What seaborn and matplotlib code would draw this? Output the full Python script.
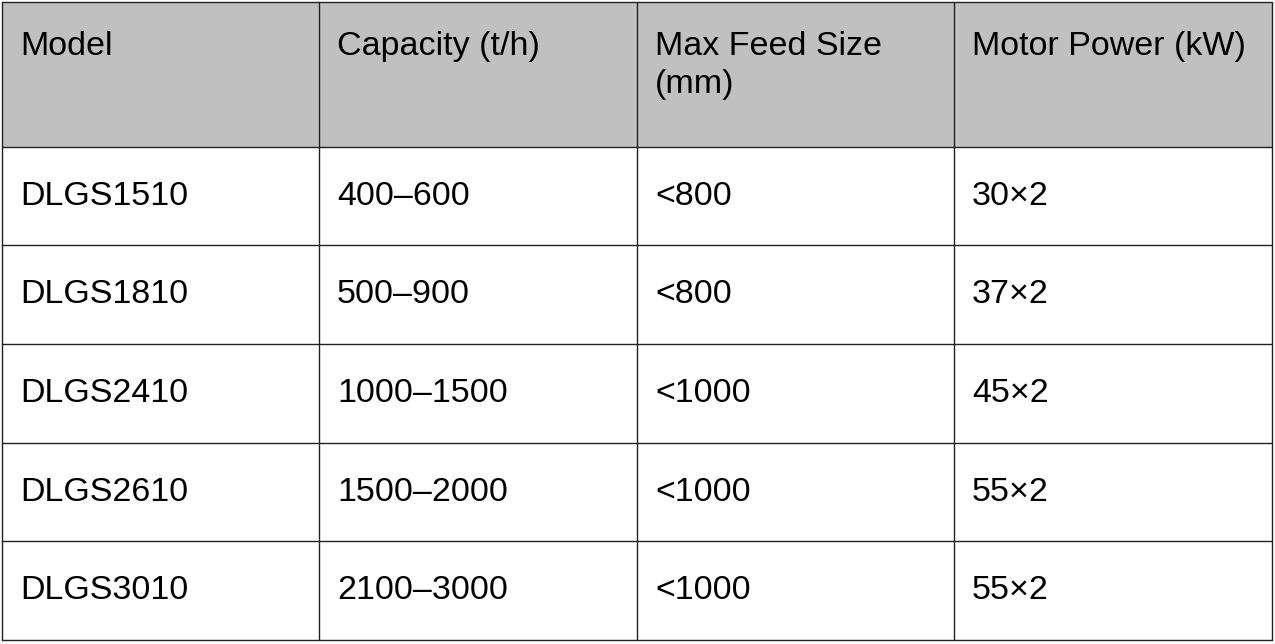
import seaborn as sns
import matplotlib.pyplot as plt

sns.set_style("white")
plt.rcParams['font.family'] = ['Liberation Sans', 'DejaVu Sans']

headers = ['Model', 'Capacity (t/h)', 'Max Feed Size\n(mm)', 'Motor Power (kW)']
models = ['DLGS1510', 'DLGS1810', 'DLGS2410', 'DLGS2610', 'DLGS3010']
capacity = ['400–600', '500–900', '1000–1500', '1500–2000', '2100–3000']
feed_size = ['<800', '<800', '<1000', '<1000', '<1000']
motor_power = ['30×2', '37×2', '45×2', '55×2', '55×2']

col_x = [2, 319, 637, 954, 1272]
row_y = [2, 147, 245, 344, 443, 541, 640]

fig = plt.figure(figsize=(12.75, 6.44), dpi=100)
ax = fig.add_axes([0, 0, 1, 1])
ax.set_xlim(0, 1275)
ax.set_ylim(644, 0)
ax.axis('off')

# header background
ax.add_patch(plt.Rectangle((col_x[0], row_y[0]), col_x[-1] - col_x[0], row_y[1] - row_y[0],
                           facecolor='#c0c0c0', edgecolor='none'))

for x in col_x:
    ax.plot([x, x], [row_y[0], row_y[-1]], color='#222222', lw=1)
for y in row_y:
    ax.plot([col_x[0], col_x[-1]], [y, y], color='#222222', lw=1)

for i, h in enumerate(headers):
    ax.text(col_x[i] + 18, 31, h, fontsize=24.5, va='top', ha='left',
            linespacing=1.3, color='black')

columns = [models, capacity, feed_size, motor_power]
for r in range(len(models)):
    yc = (row_y[r + 1] + row_y[r + 2]) / 2
    for c, col in enumerate(columns):
        ax.text(col_x[c] + 18, yc, col[r], fontsize=24.5, va='center', ha='left', color='black')

fig.savefig('out.png', dpi=100)
